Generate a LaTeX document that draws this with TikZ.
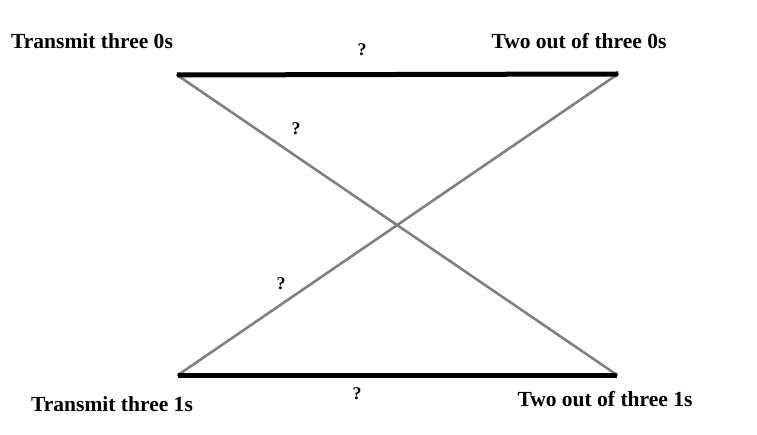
\documentclass[tikz,border=0pt]{standalone}
\usepackage{fontspec}
\setmainfont{Liberation Serif}
\usepackage{tikz}
\usetikzlibrary{positioning}
\definecolor{crossgray}{HTML}{808080}

\begin{document}
\begin{tikzpicture}[x=1bp, y=-1bp,
    endlabel/.style={font=\fontsize{21.6}{26}\selectfont\bfseries, anchor=base, inner sep=0pt},
    qlabel/.style={font=\fontsize{18}{21}\selectfont\bfseries, inner sep=0pt},
    sameline/.style={line width=5bp, black},
    crossline/.style={line width=2.6bp, crossgray, line cap=round}]
    \useasboundingbox (0,0) rectangle (757,435);

    % End points
    \coordinate (send0) at (177,75);
    \coordinate (recv0) at (618,74);
    \coordinate (send1) at (178,375);
    \coordinate (recv1) at (617,375);

    % Labels
    \node[endlabel] (tsend0) at (92,49) {Transmit three 0s};
    \node[endlabel] (trecv0) at (579,49) {Two out of three 0s};
    \node[endlabel] (tsend1) at (112,411) {Transmit three 1s};
    \node[endlabel] (trecv1) at (605,406) {Two out of three 1s};

    % Crossing lines
    \draw[crossline] (send0) -- (recv1);
    \draw[crossline] (send1) -- (recv0);

    % Correct transmissions
    \draw[sameline] (send0) -- (recv0);
    \draw[sameline] (send1) -- (recv1);

    % Probabilities
    \node[qlabel] (p00) at (362,50) {?};
    \node[qlabel] (p01) at (296,129) {?};
    \node[qlabel] (p10) at (281,284) {?};
    \node[qlabel] (p11) at (357,394) {?};
\end{tikzpicture}
\end{document}
